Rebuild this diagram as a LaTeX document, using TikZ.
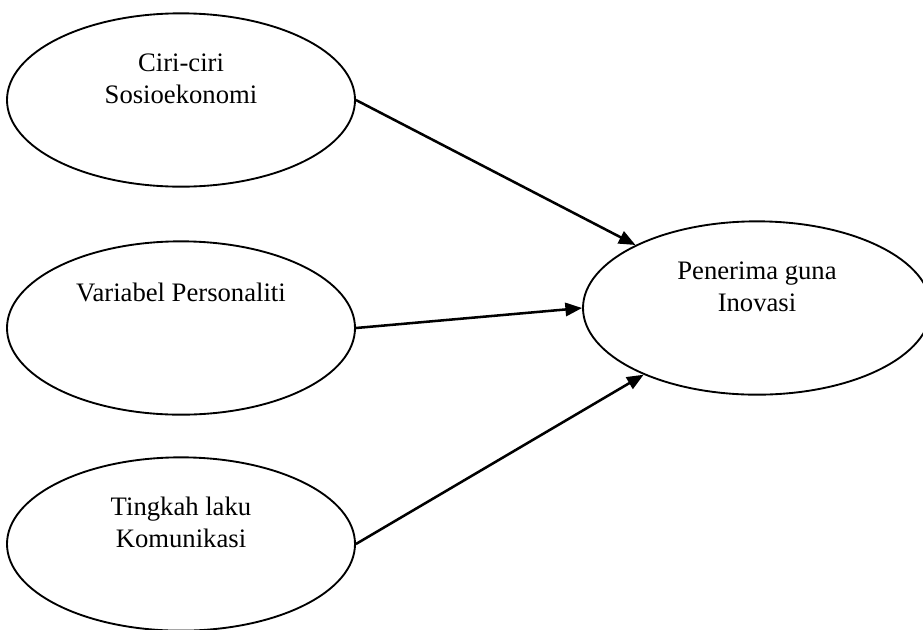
\documentclass[tikz,border=0pt]{standalone}
\usepackage{fontspec}
\setmainfont{Liberation Serif}
\usetikzlibrary{arrows.meta,shapes.geometric}
\begin{document}
\begin{tikzpicture}[x=0.75pt,y=-0.75pt,
  oval/.style={draw, line width=1.4pt, ellipse, minimum width=261pt, minimum height=130pt, inner sep=0pt},
  lbl/.style={align=center, font=\fontsize{20}{24}\selectfont, inner sep=0pt},
  conn/.style={line width=1.9pt, -{Triangle[length=12.5pt,width=10pt]}}]
\useasboundingbox (0,0) rectangle (923,629);
\node[oval] (e1) at (181,100) {};
\node[oval] (e2) at (181,328) {};
\node[oval] (e3) at (181,544) {};
\node[oval] (r) at (757,308) {};
\node[lbl] (t1) at (181,79) {Ciri-ciri\\Sosioekonomi};
\node[lbl] (t2) at (181,292) {Variabel Personaliti};
\node[lbl] (t3) at (181,522) {Tingkah laku\\Komunikasi};
\node[lbl] (t4) at (757,287) {Penerima guna\\Inovasi};
\draw[conn] (e1.east) -- (r);
\draw[conn] (e2.east) -- (r.west);
\draw[conn] (e3.east) -- (r);
\end{tikzpicture}
\end{document}
